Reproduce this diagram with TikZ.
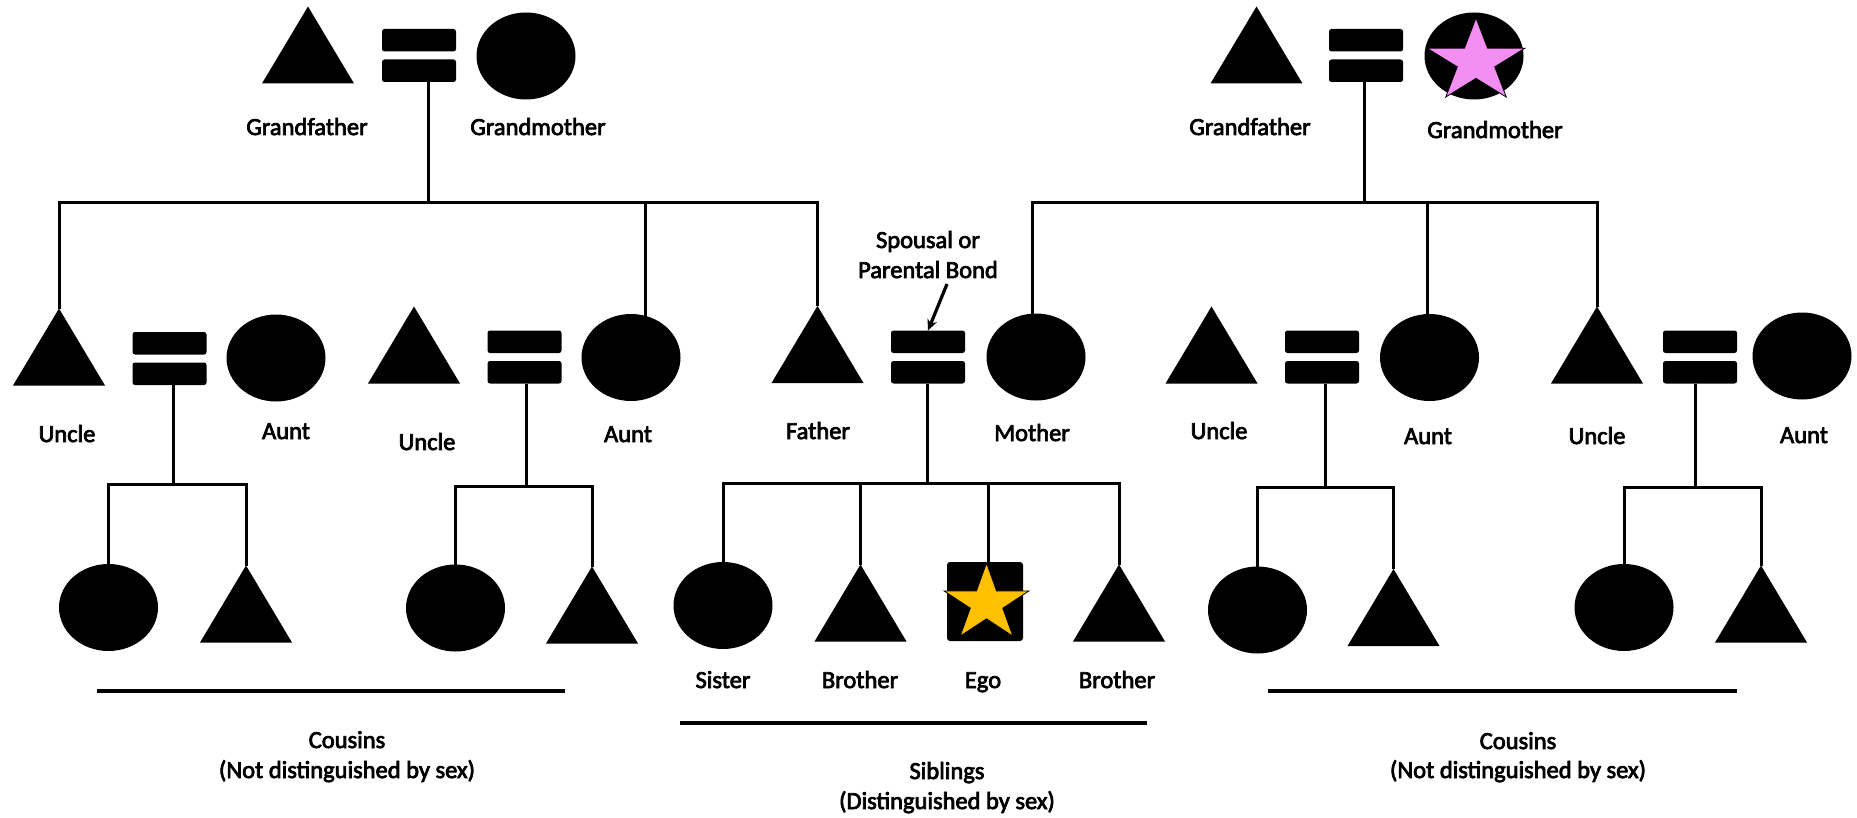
\documentclass[tikz,border=0pt]{standalone}
\usepackage{fontspec}
\setmainfont{Carlito}
\newfontfamily\lblfam{Carlito}[FakeBold=3]
\usetikzlibrary{shapes.geometric,arrows.meta,backgrounds}
\newcommand{\starpoly}{(0,1) -- (0.2245,0.309) -- (0.951,0.309) -- (0.363,-0.118) -- (0.588,-0.809) -- (0,-0.382) -- (-0.588,-0.809) -- (-0.363,-0.118) -- (-0.951,0.309) -- (-0.2245,0.309) -- cycle}
\newcommand{\lblfont}{\lblfam\fontsize{24.5pt}{30pt}\selectfont}
\definecolor{starpink}{RGB}{243,142,243}
\definecolor{stargold}{RGB}{255,192,0}
\begin{document}
\begin{tikzpicture}[x=1pt,y=-1pt,
  every node/.style={inner sep=0pt,outer sep=0pt},
  tri/.style={minimum width=92pt,minimum height=77pt,
    path picture={\fill (path picture bounding box.south west) -- (path picture bounding box.south east) -- (path picture bounding box.north) -- cycle;}},
  fem/.style={ellipse,fill,minimum width=99pt,minimum height=87pt},
  bond/.style={minimum width=74pt,minimum height=53pt,
    path picture={
      \fill[rounded corners=2.5pt] (path picture bounding box.north west) rectangle ([yshift=-22.5pt]path picture bounding box.north east);
      \fill[rounded corners=2.5pt] ([yshift=22.5pt]path picture bounding box.south west) rectangle (path picture bounding box.south east);}},
  egobox/.style={fill,rounded corners=3pt,minimum width=76pt,minimum height=79pt},
  lbl/.style={anchor=base,font=\lblfont},
  conn/.style={line width=3pt},
  sepline/.style={line width=3.2pt},
  arr/.style={line width=3.2pt,-{Stealth[length=11pt,width=10pt]}},
  starline/.style={draw=black,line width=0.8pt,line join=miter}
]
\useasboundingbox (0,0) rectangle (1857,818);

% ---- grandparents
\node[tri] (gf1) at (308,45) {};
\node[bond] (gb1) at (419,55.5) {};
\node[fem] (gm1) at (526,56) {};
\node[tri] (gf2) at (1256.5,45) {};
\node[bond] (gb2) at (1366,55.5) {};
\node[fem] (gm2) at (1474,56) {};

% ---- parents generation
\node[tri] (u1) at (59,347) {};
\node[bond] (b1) at (169.5,358.5) {};
\node[fem] (a1) at (276,358) {};
\node[tri] (u2) at (414,345) {};
\node[bond] (b2) at (524.5,357) {};
\node[fem] (a2) at (631,357.5) {};
\node[tri] (fa) at (817.5,344.5) {};
\node[bond] (bf) at (928,357) {};
\node[fem] (mo) at (1036,357) {};
\node[tri] (u3) at (1211.5,345) {};
\node[bond] (b3) at (1322,357) {};
\node[fem] (a3) at (1429.5,357.5) {};
\node[tri] (u4) at (1597,345) {};
\node[bond] (b4) at (1700,357) {};
\node[fem] (a4) at (1802,356) {};

% ---- ego generation
\node[fem] (c1a) at (108.5,607.5) {};
\node[tri] (c1b) at (246,604) {};
\node[fem] (c2a) at (455.5,608) {};
\node[tri] (c2b) at (592,605) {};
\node[fem] (si) at (723,605.5) {};
\node[tri] (br1) at (860.5,603) {};
\node[egobox] (ego) at (985,601.5) {};
\node[tri] (br2) at (1119,603) {};
\node[fem] (c3a) at (1257.5,610) {};
\node[tri] (c3b) at (1393.5,607.5) {};
\node[fem] (c4a) at (1624,607.5) {};
\node[tri] (c4b) at (1761,604) {};

% ---- stars
\draw[starline,fill=starpink] [shift={(gm2.center)},xshift=2pt,yshift=-5.7pt,xscale=51.5,yscale=-43.7] \starpoly;
\draw[starline,fill=stargold] [shift={(ego.center)},xshift=1.5pt,yshift=-1.9pt,xscale=44.7,yscale=-40.4] \starpoly;

% ---- junctions
\coordinate (j0) at (428,203);
\coordinate (j5) at (1364,203);
\coordinate (k1) at (173,484);
\coordinate (k2) at (526,486);
\coordinate (kf) at (927,483);
\coordinate (k3) at (1325,487);
\coordinate (k4) at (1695,487);

\begin{scope}[on background layer]
  % grandparents left
  \draw[conn] (gb1.south -| j0) -- (j0);
  \draw[conn] (u1) -- (u1 |- j0) -- (fa |- j0) -- (fa);
  \draw[conn] ([xshift=14pt]a2.center) -- ([xshift=14pt]a2.center |- j0);
  % grandparents right
  \draw[conn] (gb2.south -| j5) -- (j5);
  \draw[conn] ([xshift=-4pt]mo.center) -- ([xshift=-4pt]mo.center |- j5) -- (u4 |- j5) -- (u4);
  \draw[conn] ([xshift=-2.5pt]a3.center) -- ([xshift=-2.5pt]a3.center |- j5);
  % families
  \draw[conn] (b1.south -| k1) -- (k1);
  \draw[conn] (c1a) -- (c1a |- k1) -- (c1b |- k1) -- (c1b);
  \draw[conn] (b2.south -| k2) -- (k2);
  \draw[conn] (c2a) -- (c2a |- k2) -- (c2b |- k2) -- (c2b);
  \draw[conn] (bf.south -| kf) -- (kf);
  \draw[conn] (si) -- (si |- kf) -- (br2 |- kf) -- (br2);
  \draw[conn] (br1 |- kf) -- (br1);
  \draw[conn] ([xshift=3pt]ego.north |- kf) -- ([xshift=3pt]ego.center);
  \draw[conn] (b3.south -| k3) -- (k3);
  \draw[conn] (c3a) -- (c3a |- k3) -- (c3b |- k3) -- (c3b);
  \draw[conn] (b4.south -| k4) -- (k4);
  \draw[conn] (c4a) -- (c4a |- k4) -- (c4b |- k4) -- (c4b);
\end{scope}

% ---- labels
\node[lbl] (lgf1) at (307,135) {Grandfather};
\node[lbl] (lgm1) at (538,135) {Grandmother};
\node[lbl] (lgf2) at (1250,135) {Grandfather};
\node[lbl] (lgm2) at (1495,138) {Grandmother};
\node[lbl] (lu1) at (67,442) {Uncle};
\node[lbl] (la1) at (286,439) {Aunt};
\node[lbl] (lu2) at (427,450) {Uncle};
\node[lbl] (la2) at (628,442) {Aunt};
\node[lbl] (lfa) at (818,439) {Father};
\node[lbl] (lmo) at (1032,441) {Mother};
\node[lbl] (lu3) at (1219,439) {Uncle};
\node[lbl] (la3) at (1428,444) {Aunt};
\node[lbl] (lu4) at (1597,444) {Uncle};
\node[lbl] (la4) at (1804,443) {Aunt};
\node[lbl] (lsi) at (723,688) {Sister};
\node[lbl] (lbr1) at (860,688) {Brother};
\node[lbl] (lego) at (983,688) {Ego};
\node[lbl] (lbr2) at (1117,688) {Brother};
\node[lbl] (lsp1) at (928,248) {Spousal or};
\node[lbl] (lsp2) at (928,278) {Parental Bond};
\node[lbl] (lco1) at (347,748) {Cousins};
\node[lbl] (lco1b) at (347,778) {(Not distinguished by sex)};
\node[lbl] (lco2) at (1518,749) {Cousins};
\node[lbl] (lco2b) at (1518,778) {(Not distinguished by sex)};
\node[lbl] (lsib) at (947,779) {Siblings};
\node[lbl] (lsibb) at (947,809) {(Distinguished by sex)};

% ---- arrow to the bond
\coordinate (arrstart) at (947,284);
\draw[arr] (arrstart) -- (bf.north);

% ---- group lines
\coordinate (g1a) at (97,691); \coordinate (g1b) at (565,691);
\coordinate (g2a) at (680,723); \coordinate (g2b) at (1147,723);
\coordinate (g3a) at (1268,691); \coordinate (g3b) at (1737,691);
\draw[sepline] (g1a) -- (g1b);
\draw[sepline] (g2a) -- (g2b);
\draw[sepline] (g3a) -- (g3b);
\end{tikzpicture}
\end{document}
